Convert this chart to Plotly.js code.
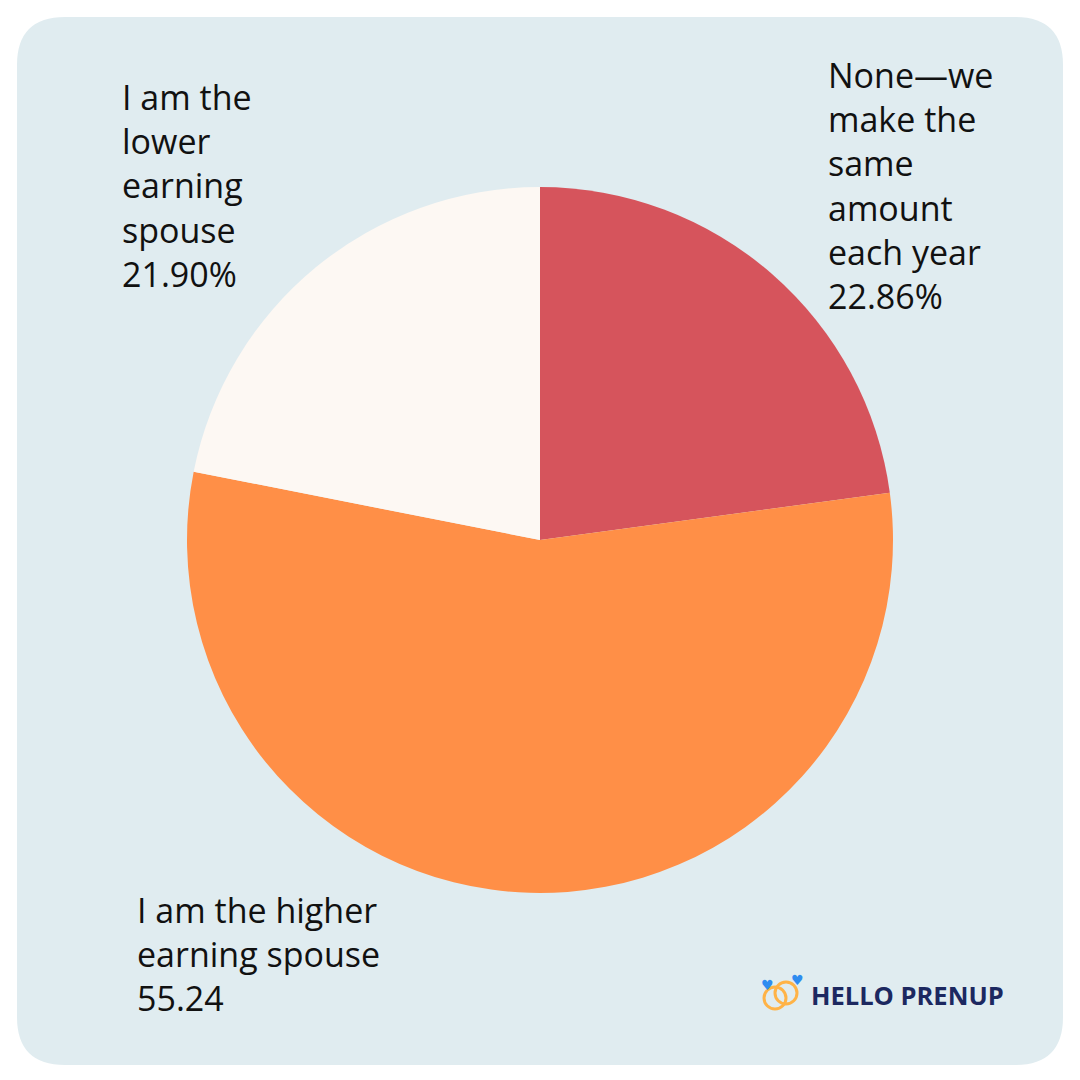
<!DOCTYPE html>
<html>
<head>
<meta charset="utf-8">
<script src="https://cdn.plot.ly/plotly-3.0.1.min.js"></script>
<style>html,body{margin:0;padding:0;background:#ffffff;}#chart{width:1080px;height:1080px;}</style>
</head>
<body>
<div id="chart"></div>
<script>
// ---- data ----
const categories = ["None—we make the same amount each year", "I am the higher earning spouse", "I am the lower earning spouse"];
const values = [22.86, 55.24, 21.90];
const labelTexts = ["None—we<br>make the<br>same<br>amount<br>each year<br>22.86%", "I am the higher<br>earning spouse<br>55.24", "I am the<br>lower<br>earning<br>spouse<br>21.90%"];
const sliceColors = ["#d6545c", "#ff8f47", "#fdf8f3"];
const brandText = "HELLO PRENUP";

// ---- helpers: pixel -> paper ----
const W = 1080, H = 1080;
const px = x => x / W;
const py = y => 1 - y / H;

function roundedRect(x0, y0, x1, y1, r) {
  const rx = r / W, ry = r / H;
  const X0 = px(x0), X1 = px(x1), Y0 = py(y1), Y1 = py(y0);
  return `M ${X0 + rx},${Y0} L ${X1 - rx},${Y0} Q ${X1},${Y0} ${X1},${Y0 + ry} ` +
         `L ${X1},${Y1 - ry} Q ${X1},${Y1} ${X1 - rx},${Y1} ` +
         `L ${X0 + rx},${Y1} Q ${X0},${Y1} ${X0},${Y1 - ry} ` +
         `L ${X0},${Y0 + ry} Q ${X0},${Y0} ${X0 + rx},${Y0} Z`;
}

const trace = {
  type: "pie",
  labels: categories,
  values: values,
  sort: false,
  direction: "clockwise",
  rotation: 0,
  marker: { colors: sliceColors, line: { width: 0 } },
  textinfo: "none",
  hoverinfo: "skip",
  domain: { x: [187 / W, 893 / W], y: [1 - 893 / H, 1 - 187 / H] },
  showlegend: false
};

const labelFont = { family: "Open Sans, sans-serif", size: 34, color: "#111111" };
const labelPos = [
  { x: 826, y: 50 },
  { x: 135, y: 885 },
  { x: 120, y: 72 }
];

const annotations = labelTexts.map((t, i) => ({
  text: t, xref: "paper", yref: "paper",
  x: px(labelPos[i].x), y: py(labelPos[i].y),
  xanchor: "left", yanchor: "top", align: "left",
  showarrow: false, font: labelFont
}));

annotations.push({
  text: "<b>" + brandText + "</b>", xref: "paper", yref: "paper",
  x: px(809), y: py(995), xanchor: "left", yanchor: "middle",
  showarrow: false,
  font: { family: "Open Sans, sans-serif", size: 25.5, color: "#1c2860" }
});
[[767, 985, 14], [797, 980, 14]].forEach(h => annotations.push({
  text: "♥", xref: "paper", yref: "paper", x: px(h[0]), y: py(h[1]),
  xanchor: "center", yanchor: "middle", showarrow: false,
  font: { family: "DejaVu Sans", size: h[2], color: "#2f8cf0" }
}));

const ring = (cx, cy, r) => ({
  type: "circle", xref: "paper", yref: "paper",
  x0: px(cx - r), x1: px(cx + r), y0: py(cy + r), y1: py(cy - r),
  line: { color: "#ffb347", width: 3 }, fillcolor: "rgba(0,0,0,0)"
});

const layout = {
  width: W, height: H,
  margin: { l: 0, r: 0, t: 0, b: 0 },
  paper_bgcolor: "#ffffff",
  plot_bgcolor: "#ffffff",
  showlegend: false,
  shapes: [
    { type: "path", xref: "paper", yref: "paper", path: roundedRect(17, 17, 1063, 1065, 48),
      fillcolor: "#e0ecf0", line: { width: 0 }, layer: "below" },
    ring(775, 998, 11),
    ring(786, 993, 11)
  ],
  annotations: annotations
};

Plotly.newPlot("chart", [trace], layout, { staticPlot: true, displayModeBar: false });
</script>
</body>
</html>
